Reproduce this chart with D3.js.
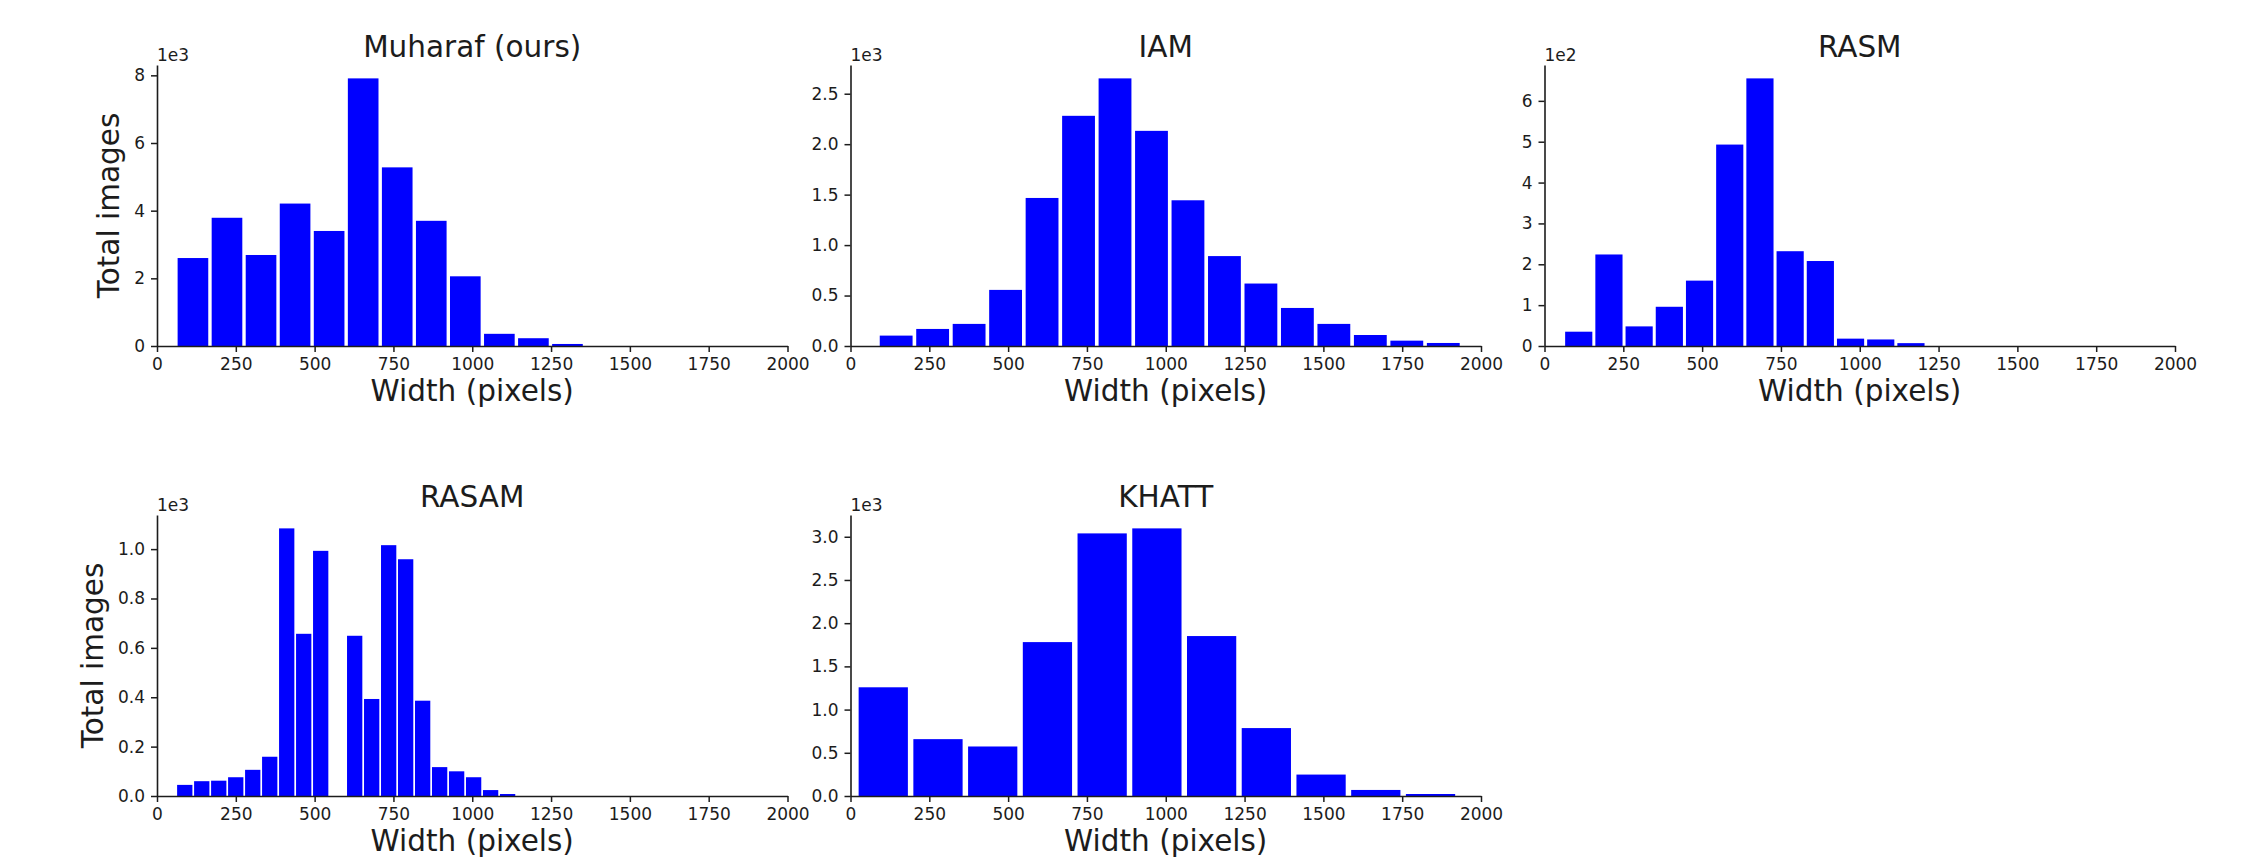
<!DOCTYPE html>
<html>
<head>
<meta charset="utf-8">
<script src="https://cdn.jsdelivr.net/npm/d3@7"></script>
<style>
  body { margin: 0; background: #fff; }
  svg { display: block; font-family: "DejaVu Sans", sans-serif; }
</style>
</head>
<body>
<svg id="chart" width="2268" height="863"></svg>
<script>
// x ticks shared by every panel
const xTicks = [0, 250, 500, 750, 1000, 1250, 1500, 1750, 2000];

// histogram bins: left edge of first bin, bin width, counts per bin
const muharafStart = 60, muharafBin = 108;
const muharafCounts = [2600, 3790, 2690, 4210, 3400, 7910, 5280, 3700, 2060, 360, 230, 60];
const muharafYTicks = [0, 2000, 4000, 6000, 8000];

const iamStart = 87, iamBin = 115.7;
const iamCounts = [103, 169, 219, 556, 1467, 2281, 2652, 2132, 1444, 891, 619, 377, 219, 109, 53, 30];
const iamYTicks = [0, 500, 1000, 1500, 2000, 2500];

const rasmStart = 60.7, rasmBin = 95.8;
const rasmCounts = [35, 224, 48, 96, 160, 493, 655, 232, 208, 18, 16, 7];
const rasmYTicks = [0, 100, 200, 300, 400, 500, 600];

const rasamStart = 61.1, rasamBin = 53.9;
const rasamCounts = [45, 60, 62, 76, 106, 159, 1084, 657, 993, 0, 649, 393, 1016, 959, 386, 117, 100, 76, 24, 8];
const rasamYTicks = [0, 200, 400, 600, 800, 1000];

const khattStart = 17.1, khattBin = 173.6;
const khattCounts = [1258, 658, 573, 1781, 3039, 3097, 1851, 786, 248, 70, 23];
const khattYTicks = [0, 500, 1000, 1500, 2000, 2500, 3000];

const panels = [
  { title: "Muharaf (ours)", start: muharafStart, bin: muharafBin, counts: muharafCounts, yTicks: muharafYTicks, exp: 3, digits: 0, col: 0, row: 0, ylabel: true },
  { title: "IAM", start: iamStart, bin: iamBin, counts: iamCounts, yTicks: iamYTicks, exp: 3, digits: 1, col: 1, row: 0 },
  { title: "RASM", start: rasmStart, bin: rasmBin, counts: rasmCounts, yTicks: rasmYTicks, exp: 2, digits: 0, col: 2, row: 0 },
  { title: "RASAM", start: rasamStart, bin: rasamBin, counts: rasamCounts, yTicks: rasamYTicks, exp: 3, digits: 1, col: 0, row: 1, ylabel: true },
  { title: "KHATT", start: khattStart, bin: khattBin, counts: khattCounts, yTicks: khattYTicks, exp: 3, digits: 1, col: 1, row: 1 },
];

const colX = [157, 850.5, 1544.5];
const rowY = [65, 515];
const axW = 630.5, axH = 281;
const ink = "#1c1c1c";

const svg = d3.select("#chart");

panels.forEach((p) => {
  const left = colX[p.col], top = rowY[p.row];
  const g = svg.append("g").attr("transform", `translate(${left},${top})`);

  const x = d3.scaleLinear().domain([0, 2000]).range([0, axW]);
  const y = d3.scaleLinear().domain([0, d3.max(p.counts) * 1.05]).range([axH, 0]);

  // bars, rwidth 0.9 like matplotlib hist
  g.selectAll("rect.bar")
    .data(p.counts)
    .enter()
    .append("rect")
    .attr("class", "bar")
    .attr("x", (d, i) => x(p.start + i * p.bin + 0.05 * p.bin))
    .attr("width", x(p.bin * 0.9) - x(0))
    .attr("y", (d) => y(d))
    .attr("height", (d) => y(0) - y(d))
    .attr("fill", "#0000ff");

  const scale = Math.pow(10, p.exp);
  const xAxis = g.append("g")
    .attr("transform", `translate(0,${axH})`)
    .call(d3.axisBottom(x).tickValues(xTicks).tickFormat(d3.format("d"))
      .tickSize(6).tickSizeOuter(0).tickPadding(6));
  const yAxis = g.append("g")
    .call(d3.axisLeft(y).tickValues(p.yTicks).tickSize(6).tickSizeOuter(0).tickPadding(6)
      .tickFormat((d) => (d / scale).toFixed(p.digits)));

  [xAxis, yAxis].forEach((a) => {
    a.attr("font-family", null).attr("font-size", 17);
    a.selectAll("text").attr("fill", ink);
    a.selectAll("line").attr("stroke", ink).attr("stroke-width", 1.5);
    a.select(".domain").attr("stroke", ink).attr("stroke-width", 1.6);
  });

  // offset text
  g.append("text")
    .attr("x", 0)
    .attr("y", -4)
    .attr("font-size", 17)
    .attr("fill", ink)
    .text(`1e${p.exp}`);

  g.append("text")
    .attr("x", axW / 2)
    .attr("y", -8)
    .attr("text-anchor", "middle")
    .attr("font-size", 29.5)
    .attr("fill", ink)
    .text(p.title);

  g.append("text")
    .attr("x", axW / 2)
    .attr("y", axH + 55)
    .attr("text-anchor", "middle")
    .attr("font-size", 29.5)
    .attr("fill", ink)
    .text("Width (pixels)");

  if (p.ylabel) {
    const bb = yAxis.node().getBBox();
    const lx = bb.x - 15;
    g.append("text")
      .attr("transform", `translate(${lx},${axH / 2}) rotate(-90)`)
      .attr("text-anchor", "middle")
      .attr("font-size", 29.5)
      .attr("fill", ink)
      .text("Total images");
  }
});
</script>
</body>
</html>
